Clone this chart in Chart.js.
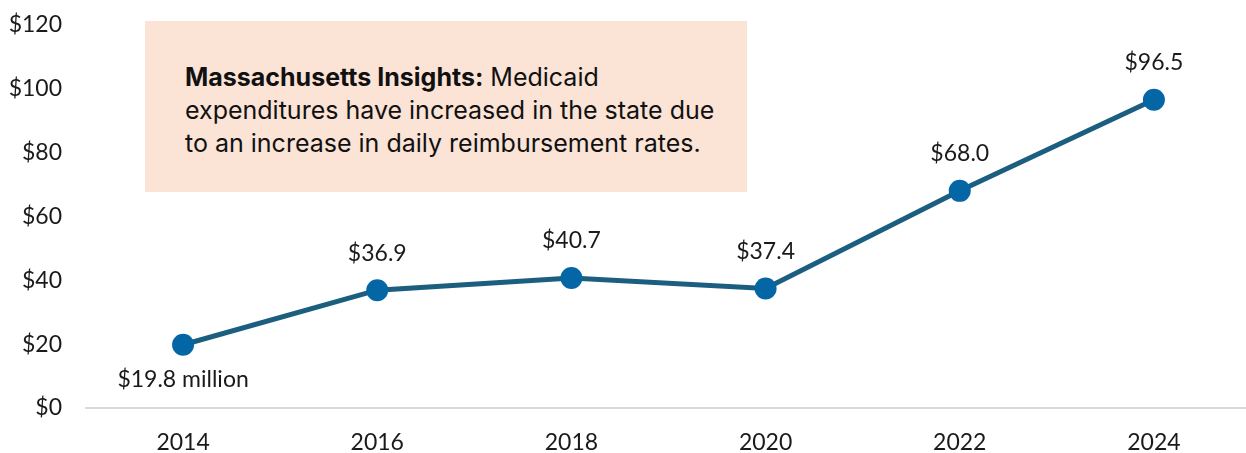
<!DOCTYPE html>
<html>
<head>
<meta charset="utf-8">
<script src="https://cdn.jsdelivr.net/npm/chart.js@4"></script>
<style>
  html,body{margin:0;padding:0;background:#fff;overflow:hidden}
  #wrap{position:relative;width:1262px;height:453px;overflow:hidden}
  #note{position:absolute;left:145px;top:21px;width:602px;height:171px;background:#FBE3D6;box-sizing:border-box;padding:40px 18px 0 40px;font-family:Inter,'Open Sans',sans-serif;font-size:25px;line-height:33px;color:#111;z-index:0}
  #note b{font-weight:700}
  canvas{position:absolute;left:0;top:-5px;z-index:1}
</style>
</head>
<body>
<div id="wrap">
  <div id="note"><b>Massachusetts Insights:</b> Medicaid<br>expenditures have increased in the state due<br>to an increase in daily reimbursement rates.</div>
  <canvas id="chart" width="1262" height="458"></canvas>
</div>
<script>
/* ── data ── */
const YEARS  = ['2014','2016','2018','2020','2022','2024'];
const SPEND  = [19.8, 36.9, 40.7, 37.4, 68.0, 96.5];
const LABELS = ['$19.8 million','$36.9','$40.7','$37.4','$68.0','$96.5'];
const Y_TICKS = [0,20,40,60,80,100,120];

const TICK_FONT = { family:'Lato', size:23 };

/* ── value labels over / under the points ── */
const pointLabels = {
  id:'pointLabels',
  afterDatasetsDraw(chart) {
    const ctx = chart.ctx;
    const pts = chart.getDatasetMeta(0).data;
    ctx.save();
    ctx.font = '23px Lato';
    ctx.fillStyle = '#1a1a1a';
    ctx.textAlign = 'center';
    ctx.textBaseline = 'middle';
    pts.forEach((p,i) => {
      const below = i === 0;
      ctx.fillText(LABELS[i], p.x, below ? p.y + 35 : p.y - 37);
    });
    ctx.restore();
  }
};

new Chart(document.getElementById('chart'), {
  type:'line',
  data:{
    labels: YEARS,
    datasets:[{
      data: SPEND,
      borderColor:'#1B5E80',
      borderWidth:5,
      pointRadius:11,
      pointHoverRadius:11,
      pointBackgroundColor:'#0466A4',
      pointBorderWidth:0,
      tension:0
    }]
  },
  options:{
    responsive:false, animation:false,
    layout:{ padding:{ top:9, right:0, left:0, bottom:0 } },
    plugins:{ legend:{display:false}, tooltip:{enabled:false} },
    scales:{
      x:{
        offset:true,
        grid:{ display:false },
        border:{ display:true, color:'#D9D9D9', width:2 },
        ticks:{ color:'#1a1a1a', font:TICK_FONT, padding:13 },
        afterFit(s){ s.height = 45; }
      },
      y:{
        min:0, max:120,
        afterBuildTicks(s){ s.ticks = Y_TICKS.map(v => ({value:v})); },
        grid:{ display:false },
        border:{ display:false },
        ticks:{ color:'#1a1a1a', font:TICK_FONT, padding:16, callback:v => '$' + v },
        afterFit(s){ s.width = 86; }
      }
    }
  },
  plugins:[pointLabels]
});
</script>
</body>
</html>
